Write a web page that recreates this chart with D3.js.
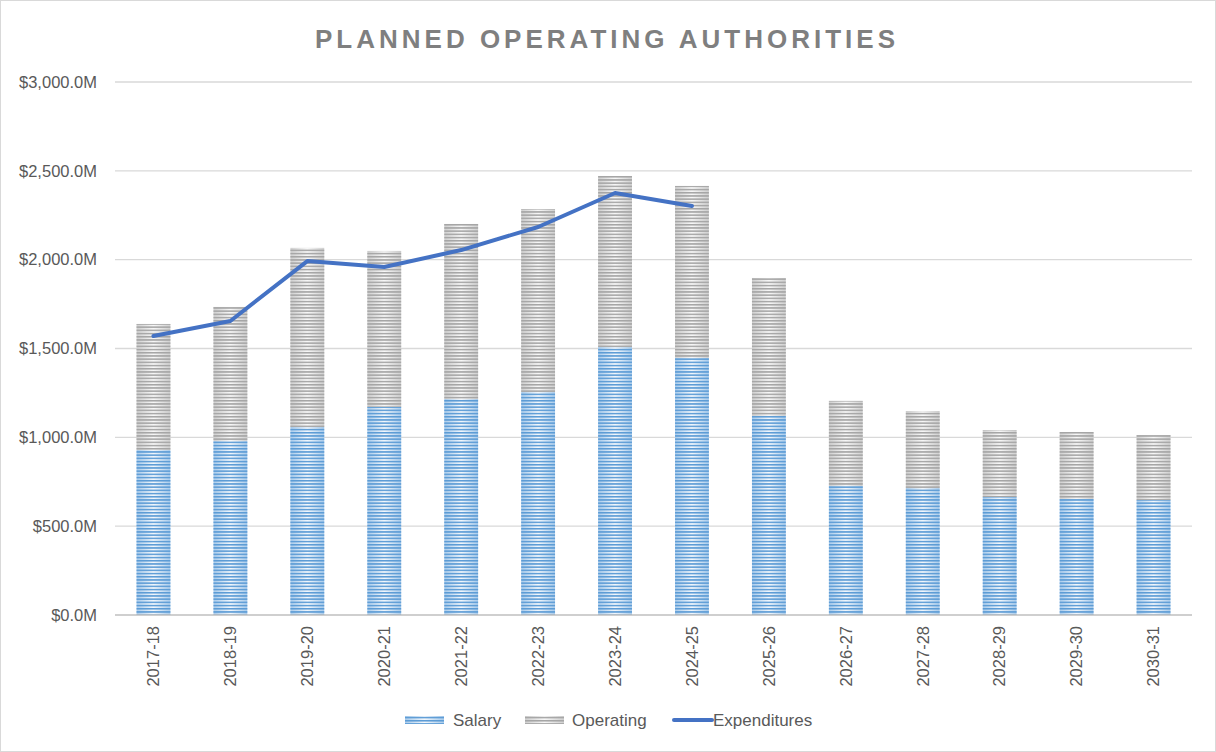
<!DOCTYPE html>
<html>
<head>
<meta charset="utf-8">
<script src="https://cdn.jsdelivr.net/npm/d3@7"></script>
<style>
  body { margin: 0; background: #fff; }
  svg { display: block; font-family: 'Liberation Sans', 'Open Sans', sans-serif; }
</style>
</head>
<body>
<svg id="chart"></svg>
<script>
// chart data
const years = ['2017-18', '2018-19', '2019-20', '2020-21', '2021-22', '2022-23', '2023-24',
  '2024-25', '2025-26', '2026-27', '2027-28', '2028-29', '2029-30', '2030-31'];
const salary = [929, 979, 1058, 1171, 1216, 1255, 1508, 1447, 1120, 726, 715, 664, 653, 647];
const operating = [709, 755, 1008, 878, 985, 1030, 963, 968, 777, 479, 433, 377, 377, 366];
const expenditures = [1570, 1655, 1992, 1959, 2054, 2184, 2375, 2302];
const yTicks = [0, 500, 1000, 1500, 2000, 2500, 3000];

const width = 1216;
const height = 752;
const marginTop = 82;
const marginRight = 24;
const marginBottom = 137;
const marginLeft = 115;

const svg = d3.select('#chart').attr('width', width).attr('height', height);

// outer chart border
svg.append('rect')
  .attr('x', 0.5).attr('y', 0.5)
  .attr('width', width - 1).attr('height', height - 1)
  .attr('fill', '#fff').attr('stroke', '#d9d9d9');

const defs = svg.append('defs');

// striped gradient fills, like the excel pattern
function makeFill(id, edge, mid, stripe) {
  const g = defs.append('linearGradient').attr('id', id + '-grad')
    .attr('x1', 0).attr('x2', 1).attr('y1', 0).attr('y2', 0);
  g.append('stop').attr('offset', 0).attr('stop-color', edge);
  g.append('stop').attr('offset', 0.5).attr('stop-color', mid);
  g.append('stop').attr('offset', 1).attr('stop-color', edge);
  const p = defs.append('pattern').attr('id', id + '-stripe')
    .attr('patternUnits', 'userSpaceOnUse')
    .attr('width', 8).attr('height', 3.2);
  p.append('rect').attr('width', 8).attr('height', 1.5).attr('fill', stripe);
}
makeFill('sal', '#a9cbeb', '#f2f7fc', '#5b9bd5');
makeFill('ops', '#cfcfcf', '#f7f7f7', '#a5a5a5');

const x = d3.scaleBand()
  .domain(years)
  .range([marginLeft, width - marginRight])
  .paddingInner(0.56)
  .paddingOuter(0.28);

const y = d3.scaleLinear()
  .domain([0, 3000])
  .range([height - marginBottom, marginTop]);

// gridlines
svg.append('g')
  .selectAll('line')
  .data(yTicks.filter((d) => d > 0))
  .join('line')
  .attr('x1', marginLeft)
  .attr('x2', width - marginRight)
  .attr('y1', (d) => y(d))
  .attr('y2', (d) => y(d))
  .attr('stroke', '#d9d9d9')
  .attr('stroke-width', 1.3);

// y axis labels
const fmt = d3.format('$,.1f');
svg.append('g')
  .selectAll('text')
  .data(yTicks)
  .join('text')
  .attr('x', 97)
  .attr('y', (d) => y(d))
  .attr('dy', '0.35em')
  .attr('text-anchor', 'end')
  .attr('fill', '#595959')
  .style('font-size', '16.5px')
  .text((d) => fmt(d) + 'M');

// stacked bars
const stacked = years.map((yr, i) => ({ year: yr, salary: salary[i], operating: operating[i] }));
const series = d3.stack().keys(['salary', 'operating'])(stacked);
const fillId = { salary: 'sal', operating: 'ops' };

series.forEach((s) => {
  const g = svg.append('g');
  const id = fillId[s.key];
  ['grad', 'stripe'].forEach((layer) => {
    g.append('g')
      .selectAll('rect')
      .data(s)
      .join('rect')
      .attr('x', (d) => x(d.data.year))
      .attr('width', x.bandwidth())
      .attr('y', (d) => y(d[1]))
      .attr('height', (d) => y(d[0]) - y(d[1]))
      .attr('fill', `url(#${id}-${layer})`);
  });
});

// x axis
svg.append('line')
  .attr('x1', marginLeft)
  .attr('x2', width - marginRight)
  .attr('y1', y(0))
  .attr('y2', y(0))
  .attr('stroke', '#bfbfbf')
  .attr('stroke-width', 1.5);

svg.append('g')
  .selectAll('text')
  .data(years)
  .join('text')
  .attr('transform', (d) => `translate(${x(d) + x.bandwidth() / 2},${y(0) + 11}) rotate(-90)`)
  .attr('text-anchor', 'end')
  .attr('dy', '0.35em')
  .attr('fill', '#595959')
  .style('font-size', '16.5px')
  .text((d) => d);

// expenditures line
const line = d3.line()
  .x((d, i) => x(years[i]) + x.bandwidth() / 2)
  .y((d) => y(d));

svg.append('path')
  .datum(expenditures)
  .attr('d', line)
  .attr('fill', 'none')
  .attr('stroke', '#4472c4')
  .attr('stroke-width', 4)
  .attr('stroke-linecap', 'round')
  .attr('stroke-linejoin', 'round');

// title
svg.append('text')
  .attr('x', 607)
  .attr('y', 48)
  .attr('text-anchor', 'middle')
  .attr('fill', '#7f7f7f')
  .style('font-size', '26px')
  .style('font-weight', 'bold')
  .style('letter-spacing', '4px')
  .text('PLANNED OPERATING AUTHORITIES');

// legend
const legend = svg.append('g').attr('transform', 'translate(0,720)');
[['sal', 405, 'Salary', 453], ['ops', 525, 'Operating', 572]].forEach(([id, sx, label, tx]) => {
  legend.append('rect').attr('x', sx).attr('y', -4).attr('width', 39).attr('height', 8)
    .attr('fill', `url(#${id}-grad)`);
  legend.append('rect').attr('x', sx).attr('y', -4).attr('width', 39).attr('height', 8)
    .attr('fill', `url(#${id}-stripe)`);
  legend.append('text').attr('x', tx).attr('dy', '0.35em')
    .attr('fill', '#595959').style('font-size', '17px').text(label);
});
legend.append('line').attr('x1', 674).attr('x2', 712).attr('y1', 0).attr('y2', 0)
  .attr('stroke', '#4472c4').attr('stroke-width', 4).attr('stroke-linecap', 'round');
legend.append('text').attr('x', 713).attr('dy', '0.35em')
  .attr('fill', '#595959').style('font-size', '17px').text('Expenditures');
</script>
</body>
</html>
